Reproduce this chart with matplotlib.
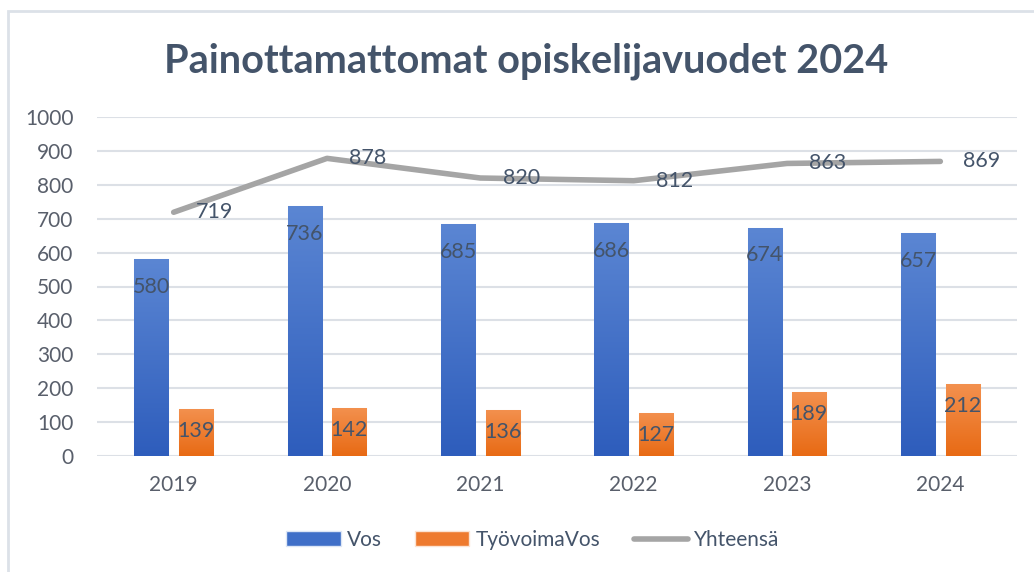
import matplotlib
matplotlib.use("Agg")
import matplotlib.pyplot as plt
import numpy as np
from matplotlib.patches import Rectangle
from matplotlib.lines import Line2D
from matplotlib.colors import LinearSegmentedColormap

years = ["2019", "2020", "2021", "2022", "2023", "2024"]
vos = [580, 736, 685, 686, 674, 657]
tyovoima = [139, 142, 136, 127, 189, 212]
yhteensa = [719, 878, 820, 812, 863, 869]
series_names = ["Vos", "TyövoimaVos", "Yhteensä"]
title = "Painottamattomat opiskelijavuodet 2024"

FONT = "Lato"
TXT = "#44546A"
TICK = "#595F6B"

fig = plt.figure(figsize=(10.34, 5.72), dpi=100)
W, H = 1034, 572
ax = fig.add_axes([97 / W, (H - 456) / H, 920 / W, 339 / H])

# outer frame
fig.add_artist(Rectangle((8 / W, -0.1), 1.2, (H - 11) / H + 0.1, transform=fig.transFigure,
                         fill=False, edgecolor="#DCE1E8", linewidth=2))

x = np.arange(len(years))
bw = 0.222
off = 0.145

blue_cmap = LinearSegmentedColormap.from_list("b", ["#2E5DBC", "#5B86D3"])
orange_cmap = LinearSegmentedColormap.from_list("o", ["#E86A14", "#F3914F"])

grad = np.linspace(0, 1, 256).reshape(-1, 1)

def gradient_bars(bars, cmap):
    for b in bars:
        x0, y0 = b.get_x(), b.get_y()
        w, h = b.get_width(), b.get_height()
        im = ax.imshow(grad, cmap=cmap, origin="lower", aspect="auto",
                       extent=[x0, x0 + w, y0, y0 + h], zorder=2)
        im.set_clip_path(b)

b1 = ax.bar(x - off, vos, bw, color="#4472C4", edgecolor="#DDE6F5", linewidth=0.8, zorder=2,
            label=series_names[0])
b2 = ax.bar(x + off, tyovoima, bw, color="#ED7D31", edgecolor="#FBE3D2", linewidth=0.8, zorder=2,
            label=series_names[1])
gradient_bars(b1, blue_cmap)
gradient_bars(b2, orange_cmap)

ax.plot(x, yhteensa, color="#A5A5A5", linewidth=4, solid_capstyle="round",
        solid_joinstyle="round", zorder=3, label=series_names[2])

# data labels
for xi, v in zip(x - off, vos):
    ax.annotate(str(v), (xi, v), xytext=(0, -20), textcoords="offset points",
                ha="center", va="center", fontsize=15.5, color=TXT, family=FONT, zorder=5)
for xi, v in zip(x + off, tyovoima):
    ax.annotate(str(v), (xi, v), xytext=(0, -16), textcoords="offset points",
                ha="center", va="center", fontsize=15.5, color=TXT, family=FONT, zorder=5)
for xi, v in zip(x, yhteensa):
    ax.annotate(str(v), (xi, v), xytext=(16, 0), textcoords="offset points",
                ha="left", va="center", fontsize=15.5, color=TXT, family=FONT, zorder=5)

ax.set_xlim(-0.5, len(years) - 0.5)
ax.set_ylim(0, 1000)
ax.set_yticks(np.arange(0, 1001, 100))
ax.set_xticks(x)
ax.set_xticklabels(years)
ax.grid(axis="y", color="#DCE0E6", linewidth=1.5, zorder=0)
ax.set_axisbelow(True)
for s in ax.spines.values():
    s.set_visible(False)
ax.tick_params(axis="both", length=0, labelsize=15, labelcolor=TICK)
ax.tick_params(axis="y", pad=17)
ax.tick_params(axis="x", pad=14)
for lab in ax.get_xticklabels() + ax.get_yticklabels():
    lab.set_family(FONT)

fig.text(526 / W, 1 - 61 / H, title, ha="center", va="center", fontsize=28.5,
         fontweight="bold", color=TXT, family=FONT)

handles = [Rectangle((0, 0), 1, 1, facecolor="#3F6FC8", edgecolor="#DDE6F5"),
           Rectangle((0, 0), 1, 1, facecolor="#EE7A2E", edgecolor="#FBE3D2"),
           Line2D([0], [0], color="#A5A5A5", linewidth=4, solid_capstyle="round")]
leg = fig.legend(handles, series_names, loc="center", bbox_to_anchor=(533 / W, 1 - 540 / H),
                 ncol=3, frameon=False, handlelength=2.6, handleheight=0.72, handletextpad=0.3,
                 columnspacing=1.6, prop={"family": FONT, "size": 15})
for t in leg.get_texts():
    t.set_color(TXT)

fig.savefig("out.png", dpi=100, facecolor="white")
